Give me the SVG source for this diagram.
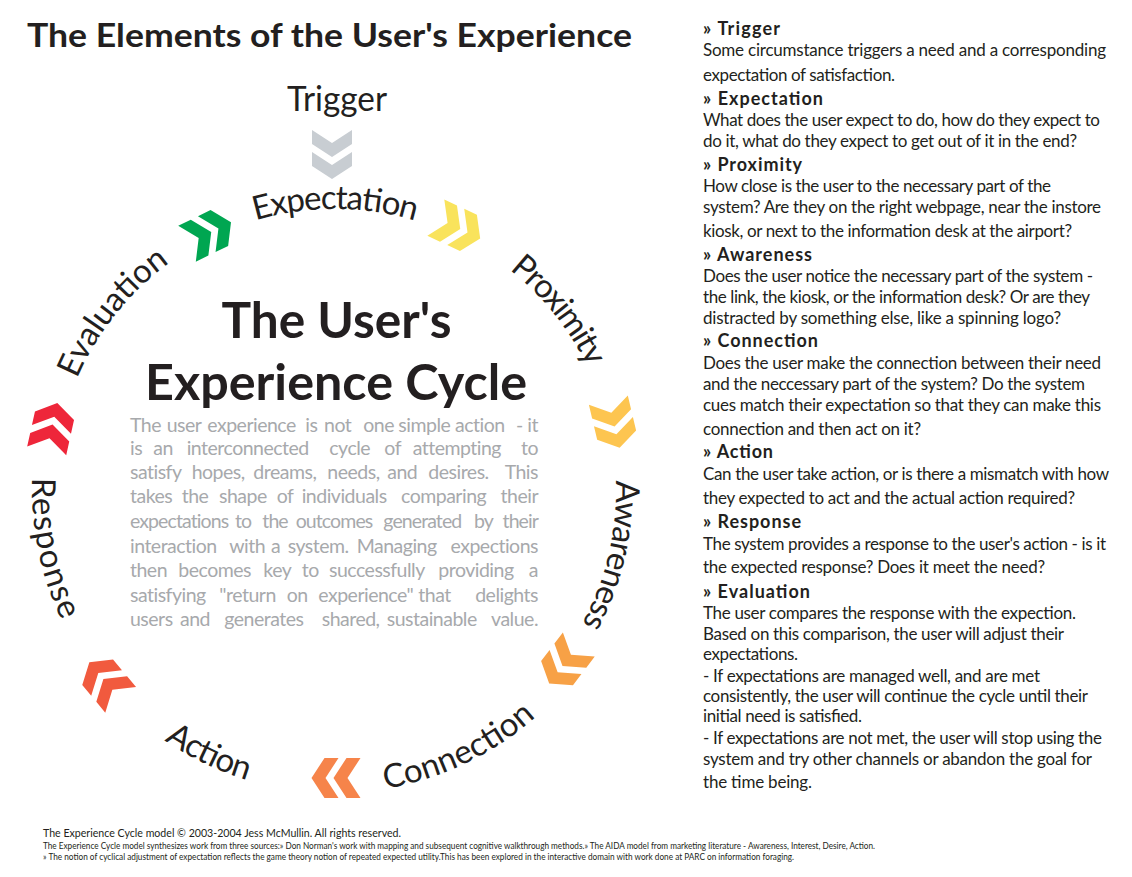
<svg xmlns="http://www.w3.org/2000/svg" width="1132" height="877" viewBox="0 0 1132 877">
<style>
text{font-family:Lato,"Open Sans","Liberation Sans",sans-serif;fill:#231f20}
.lbl{font-size:33px}
.ttl{font-weight:bold}
.body{font-size:19.5px;letter-spacing:-0.5px;fill:#a7a9ac}
.e{text-anchor:end}
.h{font-size:18px;font-weight:bold}
.t{font-size:17px}
.f1{font-size:11px}
.f2{font-size:8.5px}
</style>
<defs>
<path id="cw" d="M 54 490 A 281 281 0 0 1 616 490 A 281 281 0 0 1 54 490" fill="none"/>
<path id="ccw" d="M 50.27 386.37 A 303 303 0 0 0 619.73 593.63 A 303 303 0 0 0 50.27 386.37" fill="none"/>
<g id="chev">
<polygon points="-24.5,-20 -10.5,-20 2.5,0 -10.5,20 -24.5,20 -11.5,0"/>
<polygon points="-2.5,-20 11.5,-20 24.5,0 11.5,20 -2.5,20 10.5,0"/>
</g>
</defs>
<rect width="1132" height="877" fill="#ffffff"/>

<g id="title">
<text class="ttl" x="27" y="47" font-size="32" textLength="605" lengthAdjust="spacingAndGlyphs">The Elements of the User's Experience</text>
</g>

<g id="connectors">
<use href="#chev" transform="translate(332,154.5) rotate(90)" fill="#c8cdd2"/>
<use href="#chev" transform="translate(209,233) rotate(-26.1)" fill="#00a651"/>
<use href="#chev" transform="translate(458,228) rotate(25.1)" fill="#f9e35c"/>
<use href="#chev" transform="translate(614,424) rotate(76.7)" fill="#fdc550"/>
<use href="#chev" transform="translate(564,664) rotate(127.2)" fill="#f7a146"/>
<use href="#chev" transform="translate(336,778) rotate(180)" fill="#f6844a"/>
<use href="#chev" transform="translate(105,681) rotate(230.3)" fill="#f15a3e"/>
<use href="#chev" transform="translate(52,427) rotate(282.5)" fill="#ee263a"/>
</g>

<g id="node-trigger"><text x="337" y="111" font-size="34" text-anchor="middle" textLength="100" lengthAdjust="spacingAndGlyphs">Trigger</text></g>
<g id="node-evaluation"><text class="lbl"><textPath href="#cw" startOffset="114.3" textLength="150">Evaluation</textPath></text></g>
<g id="node-expectation"><text class="lbl"><textPath href="#cw" startOffset="360.5" textLength="162">Expectation</textPath></text></g>
<g id="node-proximity"><text class="lbl"><textPath href="#cw" startOffset="629.3" textLength="126">Proximity</textPath></text></g>
<g id="node-awareness"><text class="lbl"><textPath href="#cw" startOffset="873" textLength="149">Awareness</textPath></text></g>
<g id="node-response"><text class="lbl"><textPath href="#ccw" startOffset="93.6" textLength="147">Response</textPath></text></g>
<g id="node-action"><text class="lbl"><textPath href="#ccw" startOffset="400.3" textLength="92">Action</textPath></text></g>
<g id="node-connection"><text class="lbl"><textPath href="#ccw" startOffset="631.9" textLength="169">Connection</textPath></text></g>

<g id="center">
<text class="ttl" x="336.5" y="338" font-size="49" text-anchor="middle" textLength="230" lengthAdjust="spacingAndGlyphs">The User's</text>
<text class="ttl" x="336" y="400" font-size="49" text-anchor="middle" textLength="382" lengthAdjust="spacingAndGlyphs">Experience Cycle</text>
<text class="body" y="431.7"><tspan x="130">The</tspan> <tspan x="166.7">user</tspan> <tspan x="207.3">experience</tspan> <tspan x="305.3">is</tspan> <tspan x="324">not</tspan> <tspan x="363.3">one</tspan> <tspan x="398.3">simple</tspan> <tspan x="455">action</tspan> <tspan x="516">-</tspan> <tspan class="e" x="538">it</tspan></text>
<text class="body" y="455"><tspan x="130">is</tspan> <tspan x="153.3">an</tspan> <tspan x="186.7">interconnected</tspan> <tspan x="329.3">cycle</tspan> <tspan x="384.3">of</tspan> <tspan x="412.7">attempting</tspan> <tspan class="e" x="538">to</tspan></text>
<text class="body" y="479.3"><tspan x="130">satisfy</tspan> <tspan x="191.7">hopes,</tspan> <tspan x="253.3">dreams,</tspan> <tspan x="327.3">needs,</tspan> <tspan x="387.3">and</tspan> <tspan x="428.3">desires.</tspan> <tspan class="e" x="538">This</tspan></text>
<text class="body" y="503.3"><tspan x="130">takes</tspan> <tspan x="181.7">the</tspan> <tspan x="219">shape</tspan> <tspan x="276.7">of</tspan> <tspan x="301.7">individuals</tspan> <tspan x="401">comparing</tspan> <tspan class="e" x="538">their</tspan></text>
<text class="body" y="528.3" style="letter-spacing:-0.9px"><tspan x="130">expectations</tspan> <tspan x="235">to</tspan> <tspan x="262.3">the</tspan> <tspan x="295.7">outcomes</tspan> <tspan x="383.3">generated</tspan> <tspan x="474">by</tspan> <tspan class="e" x="538">their</tspan></text>
<text class="body" y="552.7"><tspan x="130">interaction</tspan> <tspan x="229.3">with</tspan> <tspan x="271">a</tspan> <tspan x="287.7">system.</tspan> <tspan x="356.7">Managing</tspan> <tspan class="e" x="538">expections</tspan></text>
<text class="body" y="577.3"><tspan x="130">then</tspan> <tspan x="178.3">becomes</tspan> <tspan x="263.3">key</tspan> <tspan x="301.7">to</tspan> <tspan x="329">successfully</tspan> <tspan x="438.3">providing</tspan> <tspan class="e" x="538">a</tspan></text>
<text class="body" y="601.7"><tspan x="130">satisfying</tspan> <tspan x="219.3">"return</tspan> <tspan x="286.7">on</tspan> <tspan x="318.3">experience"</tspan> <tspan x="418.3">that</tspan> <tspan class="e" x="538">delights</tspan></text>
<text class="body" y="626"><tspan x="130">users</tspan> <tspan x="180">and</tspan> <tspan x="224.3">generates</tspan> <tspan x="321.7">shared,</tspan> <tspan x="386.7">sustainable</tspan> <tspan class="e" x="538">value.</tspan></text>
</g>

<g id="descriptions">
<text class="h" x="703" y="35" textLength="77">» Trigger</text>
<text class="t" x="703" y="56" textLength="403">Some circumstance triggers a need and a corresponding</text>
<text class="t" x="703" y="80.7" textLength="192">expectation of satisfaction.</text>
<text class="h" x="703" y="105" textLength="120">» Expectation</text>
<text class="t" x="703" y="126" textLength="397">What does the user expect to do, how do they expect to</text>
<text class="t" x="703" y="146.7" textLength="374">do it, what do they expect to get out of it in the end?</text>
<text class="h" x="703" y="170.7" textLength="99">» Proximity</text>
<text class="t" x="703" y="192" textLength="348">How close is the user to the necessary part of the</text>
<text class="t" x="703" y="213.3" textLength="398">system? Are they on the right webpage, near the instore</text>
<text class="t" x="703" y="236.7" textLength="369">kiosk, or next to the information desk at the airport?</text>
<text class="h" x="703" y="260.7" textLength="109">» Awareness</text>
<text class="t" x="703" y="281.7" textLength="390">Does the user notice the necessary part of the system -</text>
<text class="t" x="703" y="303.3" textLength="387">the link, the kiosk, or the information desk? Or are they</text>
<text class="t" x="703" y="324" textLength="358">distracted by something else, like a spinning logo?</text>
<text class="h" x="703" y="347.3" textLength="115">» Connection</text>
<text class="t" x="703" y="369" textLength="398">Does the user make the connection between their need</text>
<text class="t" x="703" y="390" textLength="382">and the neccessary part of the system? Do the system</text>
<text class="t" x="703" y="410.7" textLength="398">cues match their expectation so that they can make this</text>
<text class="t" x="703" y="435" textLength="218">connection and then act on it?</text>
<text class="h" x="703" y="458.3" textLength="70">» Action</text>
<text class="t" x="703" y="480" textLength="406">Can the user take action, or is there a mismatch with how</text>
<text class="t" x="703" y="504.3" textLength="372">they expected to act and the actual action required?</text>
<text class="h" x="703" y="528.3" textLength="98">» Response</text>
<text class="t" x="703" y="550" textLength="403">The system provides a response to the user's action - is it</text>
<text class="t" x="703" y="573.3" textLength="342">the expected  response? Does it meet the need?</text>
<text class="h" x="703" y="598.3" textLength="107">» Evaluation</text>
<text class="t" x="703" y="619" textLength="373">The user compares the response with the expection.</text>
<text class="t" x="703" y="640" textLength="361">Based on this comparison, the user will adjust their</text>
<text class="t" x="703" y="660" textLength="95">expectations.</text>
<text class="t" x="703" y="681.7" textLength="337">- If expectations are managed well, and are met</text>
<text class="t" x="703" y="702.3" textLength="385">consistently, the user will continue the cycle until their</text>
<text class="t" x="703" y="722.3" textLength="159">initial need is satisfied.</text>
<text class="t" x="703" y="744.3" textLength="399">- If expectations are not met, the user will stop using the</text>
<text class="t" x="703" y="765" textLength="389">system and try other channels or abandon the goal for</text>
<text class="t" x="703" y="788.3" textLength="109">the time being.</text>
</g>

<g id="footer">
<text class="f1" x="43" y="837" textLength="358" lengthAdjust="spacingAndGlyphs">The Experience Cycle model © 2003-2004 Jess McMullin. All rights reserved.</text>
<text class="f2" x="43" y="849" textLength="832" lengthAdjust="spacingAndGlyphs">The Experience Cycle model synthesizes work from three sources:» Don Norman's work with mapping and subsequent cognitive walkthrough methods.» The AIDA model from marketing literature - Awareness, Interest, Desire, Action.</text>
<text class="f2" x="43" y="860" textLength="751" lengthAdjust="spacingAndGlyphs">» The notion of cyclical adjustment of expectation reflects the game theory notion of repeated expected utility.This has been explored in the interactive domain with work done at PARC on information foraging.</text>
</g>
</svg>
